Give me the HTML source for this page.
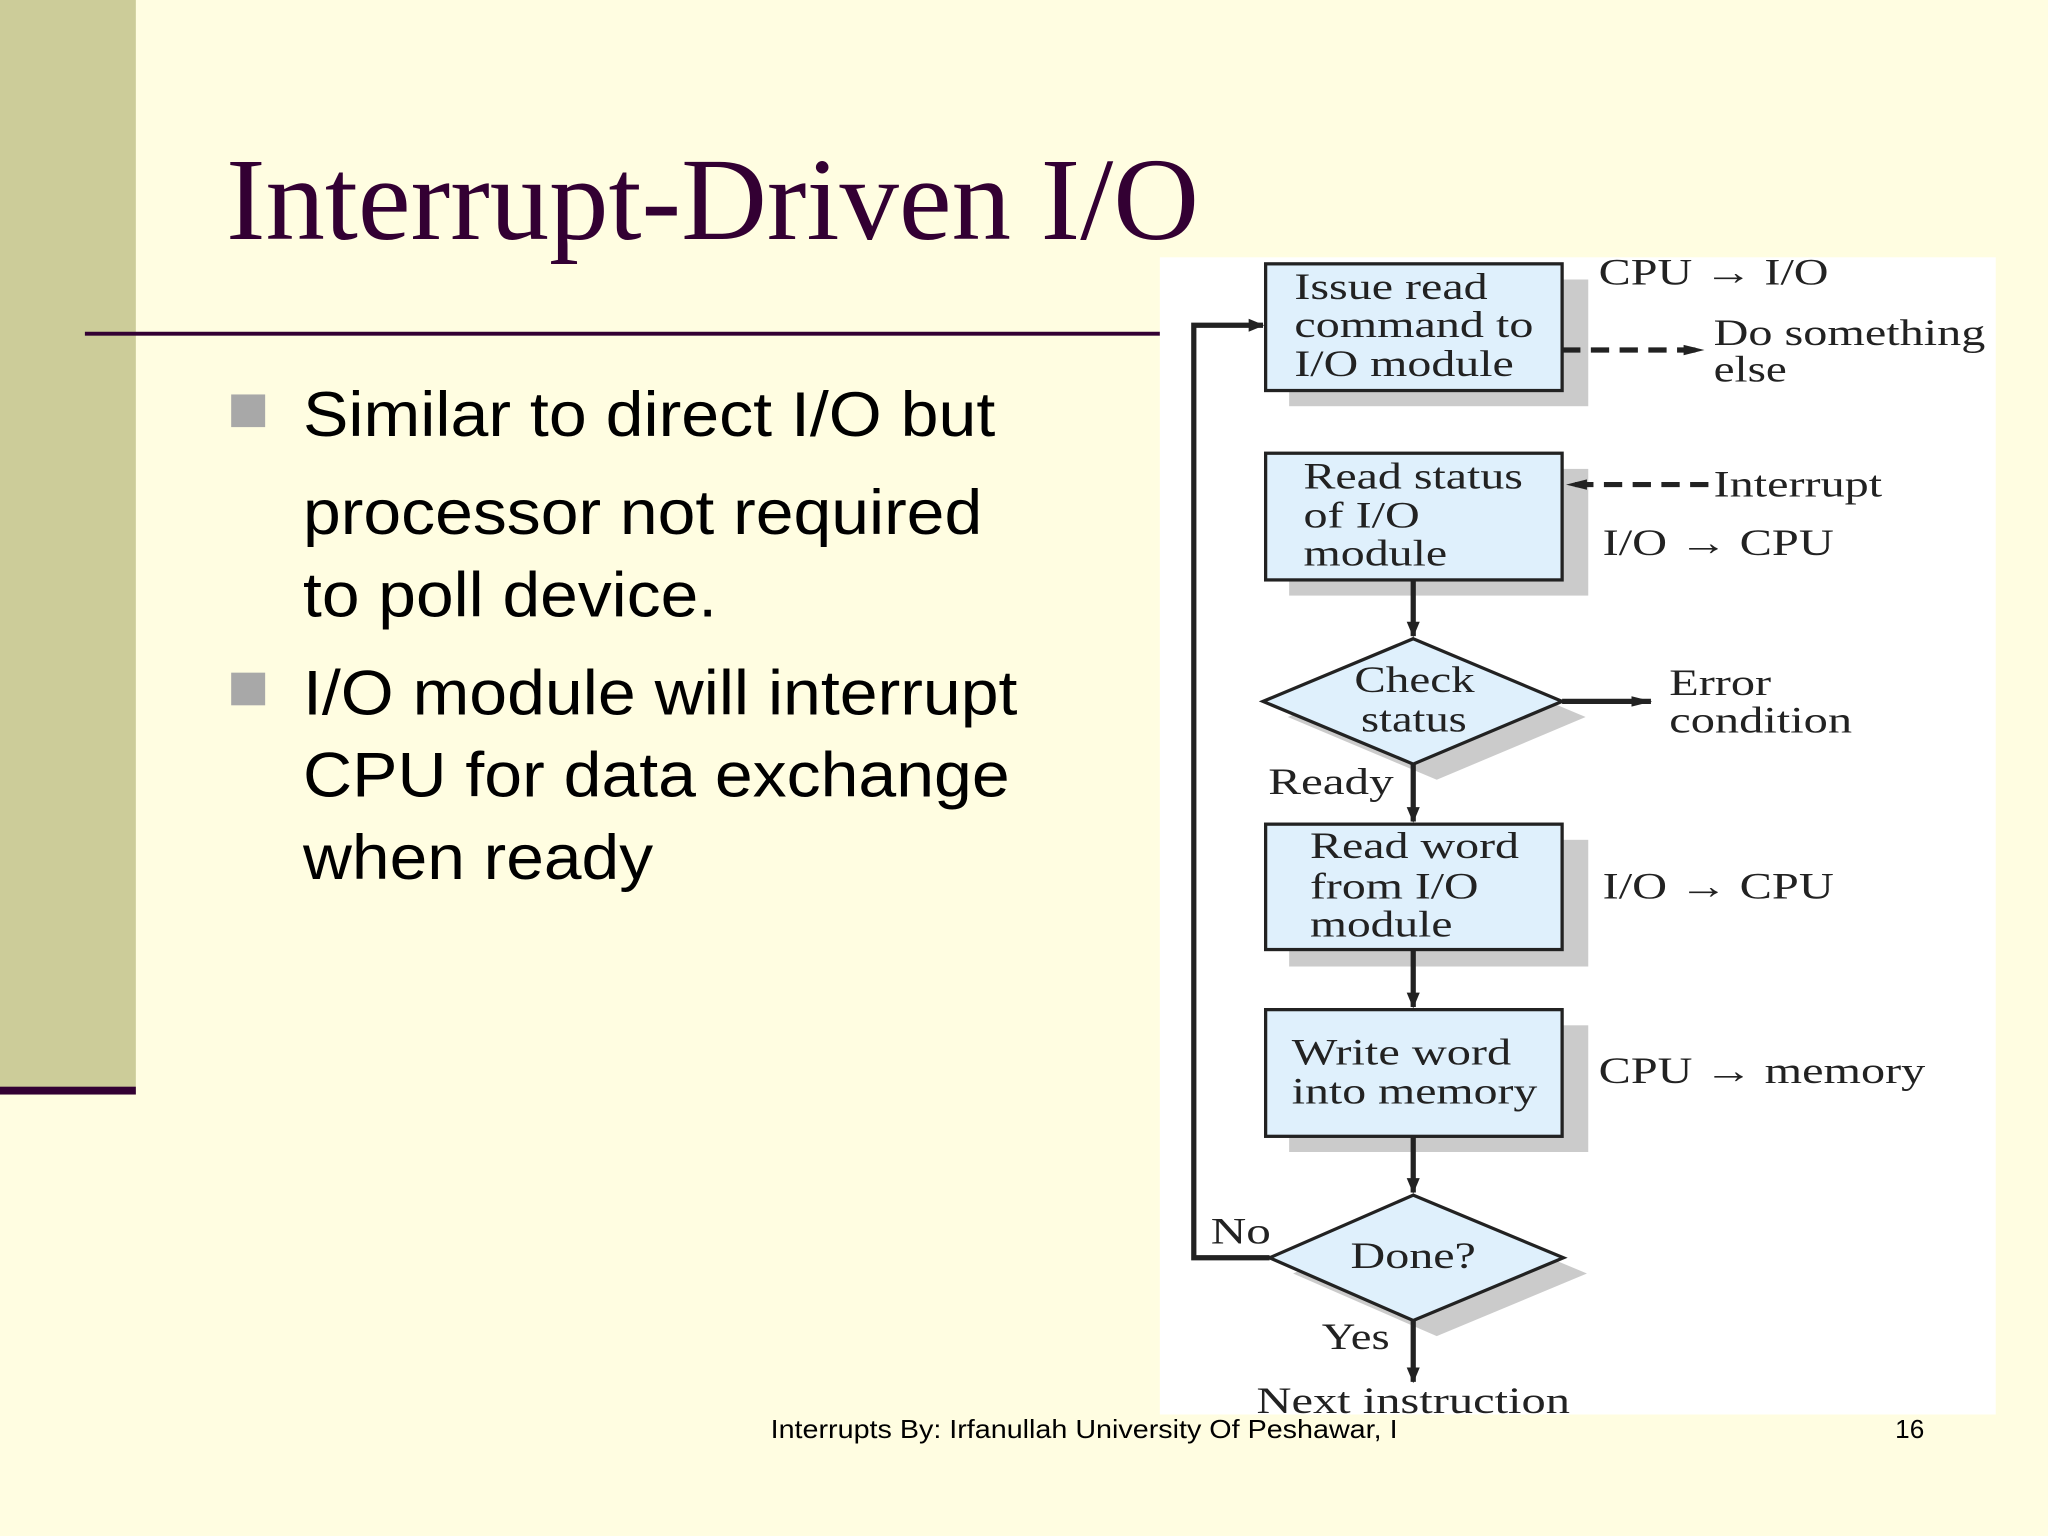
<!DOCTYPE html>
<html><head><meta charset="utf-8"><style>html,body{margin:0;padding:0;background:#FFFDE1;}svg{display:block}</style></head>
<body>
<svg width="2048" height="1536" viewBox="0 0 1568 1176" xmlns="http://www.w3.org/2000/svg">
<defs>
<marker id="ah" markerWidth="12" markerHeight="10" refX="11" refY="5" orient="auto" markerUnits="userSpaceOnUse">
<path d="M0,0 L12,5 L0,10 z" fill="#222"/></marker>
<marker id="ah2" markerWidth="16" markerHeight="10" refX="15" refY="5" orient="auto" markerUnits="userSpaceOnUse">
<path d="M0,1 L16,5 L0,9 z" fill="#222"/></marker>
</defs>
<rect width="1568" height="1176" fill="#FFFDE1"/>
<rect x="0" y="0" width="104" height="838" fill="#CCCC99"/>
<rect x="0" y="832" width="104" height="6" fill="#330033"/>
<text x="173" y="183" font-family="Liberation Serif, serif" font-size="90" fill="#330033" textLength="745" lengthAdjust="spacingAndGlyphs">Interrupt-Driven I/O</text>
<rect x="65" y="254" width="825" height="3" fill="#330033"/>
<rect x="177" y="302" width="26" height="25" fill="#A8A8A8"/>
<rect x="177" y="515" width="26" height="25" fill="#A8A8A8"/>
<g font-family="Liberation Sans, sans-serif" font-size="48" fill="#000" lengthAdjust="spacingAndGlyphs">
<text x="232" y="334" textLength="530" lengthAdjust="spacingAndGlyphs">Similar to direct I/O but</text>
<text x="232" y="409" textLength="520" lengthAdjust="spacingAndGlyphs">processor not required</text>
<text x="232" y="472" textLength="317" lengthAdjust="spacingAndGlyphs">to poll device.</text>
<text x="232" y="547" textLength="547" lengthAdjust="spacingAndGlyphs">I/O module will interrupt</text>
<text x="232" y="610" textLength="541" lengthAdjust="spacingAndGlyphs">CPU for data exchange</text>
<text x="232" y="673" textLength="268" lengthAdjust="spacingAndGlyphs">when ready</text>
</g>
<rect x="888" y="197" width="640" height="886" fill="#FFFFFF"/>
<g fill="#CBCBCB">
<rect x="987" y="214" width="229" height="97"/>
<rect x="987" y="359" width="229" height="97"/>
<rect x="987" y="643" width="229" height="97"/>
<rect x="987" y="785" width="229" height="97"/>
<polygon points="1100,501 1214,549 1100,597 986,549"/>
<polygon points="1100,927 1215,975 1100,1023 990,975"/>
</g>
<g fill="#DFF0FC" stroke="#222" stroke-width="2.5">
<rect x="969" y="202" width="227" height="97"/>
<rect x="969" y="347" width="227" height="97"/>
<rect x="969" y="631" width="227" height="96"/>
<rect x="969" y="773" width="227" height="97"/>
<polygon points="1082,489 1196,537 1082,585 967,537"/>
<polygon points="1082,915 1197,963 1082,1011 972,963"/>
</g>
<g stroke="#222" stroke-width="4" fill="none">
<line x1="1082" y1="444" x2="1082" y2="487" marker-end="url(#ah)"/>
<line x1="1082" y1="585" x2="1082" y2="629" marker-end="url(#ah)"/>
<line x1="1082" y1="727" x2="1082" y2="771" marker-end="url(#ah)"/>
<line x1="1082" y1="870" x2="1082" y2="913" marker-end="url(#ah)"/>
<line x1="1082" y1="1011" x2="1082" y2="1058" marker-end="url(#ah)"/>
<line x1="1196" y1="537" x2="1264" y2="537" marker-end="url(#ah2)"/>
<polyline points="972,963 914,963 914,249 967,249" marker-end="url(#ah)"/>
<line x1="1196" y1="268" x2="1304" y2="268" stroke-dasharray="14,8" marker-end="url(#ah2)"/>
<line x1="1308" y1="371" x2="1200" y2="371" stroke-dasharray="14,8" marker-end="url(#ah2)"/>
</g>
<g font-family="Liberation Serif, serif" font-size="28" fill="#222">
<text x="991" y="229" textLength="148" lengthAdjust="spacingAndGlyphs">Issue read</text>
<text x="991" y="258" textLength="183" lengthAdjust="spacingAndGlyphs">command to</text>
<text x="991" y="288" textLength="168" lengthAdjust="spacingAndGlyphs">I/O module</text>
<text x="998" y="374" textLength="168" lengthAdjust="spacingAndGlyphs">Read status</text>
<text x="998" y="404" textLength="89" lengthAdjust="spacingAndGlyphs">of I/O</text>
<text x="998" y="433" textLength="110" lengthAdjust="spacingAndGlyphs">module</text>
<text x="1037" y="530" textLength="92" lengthAdjust="spacingAndGlyphs">Check</text>
<text x="1042" y="560" textLength="81" lengthAdjust="spacingAndGlyphs">status</text>
<text x="1003" y="657" textLength="160" lengthAdjust="spacingAndGlyphs">Read word</text>
<text x="1003" y="688" textLength="129" lengthAdjust="spacingAndGlyphs">from I/O</text>
<text x="1003" y="717" textLength="109" lengthAdjust="spacingAndGlyphs">module</text>
<text x="989" y="815" textLength="168" lengthAdjust="spacingAndGlyphs">Write word</text>
<text x="989" y="845" textLength="188" lengthAdjust="spacingAndGlyphs">into memory</text>
<text x="1034" y="971" textLength="96" lengthAdjust="spacingAndGlyphs">Done?</text>
<text x="971" y="608" textLength="96" lengthAdjust="spacingAndGlyphs">Ready</text>
<text x="927" y="952" textLength="46" lengthAdjust="spacingAndGlyphs">No</text>
<text x="1012" y="1033" textLength="52" lengthAdjust="spacingAndGlyphs">Yes</text>
<text x="962" y="1082" textLength="240" lengthAdjust="spacingAndGlyphs">Next instruction</text>
<text x="1224" y="218" textLength="176" lengthAdjust="spacingAndGlyphs">CPU → I/O</text>
<text x="1312" y="264" textLength="208" lengthAdjust="spacingAndGlyphs">Do something</text>
<text x="1312" y="292" textLength="56" lengthAdjust="spacingAndGlyphs">else</text>
<text x="1312" y="380" textLength="129" lengthAdjust="spacingAndGlyphs">Interrupt</text>
<text x="1227" y="425" textLength="177" lengthAdjust="spacingAndGlyphs">I/O → CPU</text>
<text x="1278" y="532" textLength="78" lengthAdjust="spacingAndGlyphs">Error</text>
<text x="1278" y="561" textLength="140" lengthAdjust="spacingAndGlyphs">condition</text>
<text x="1227" y="688" textLength="177" lengthAdjust="spacingAndGlyphs">I/O → CPU</text>
<text x="1224" y="829" textLength="250" lengthAdjust="spacingAndGlyphs">CPU → memory</text>
</g>
<rect x="888" y="1083" width="640" height="30" fill="#FFFDE1"/>
<g font-family="Liberation Sans, sans-serif" font-size="20" fill="#000">
<text x="590" y="1101" textLength="480" lengthAdjust="spacingAndGlyphs">Interrupts  By: Irfanullah University Of Peshawar, I</text>
<text x="1451" y="1101">16</text>
</g>
</svg>
</body></html>
